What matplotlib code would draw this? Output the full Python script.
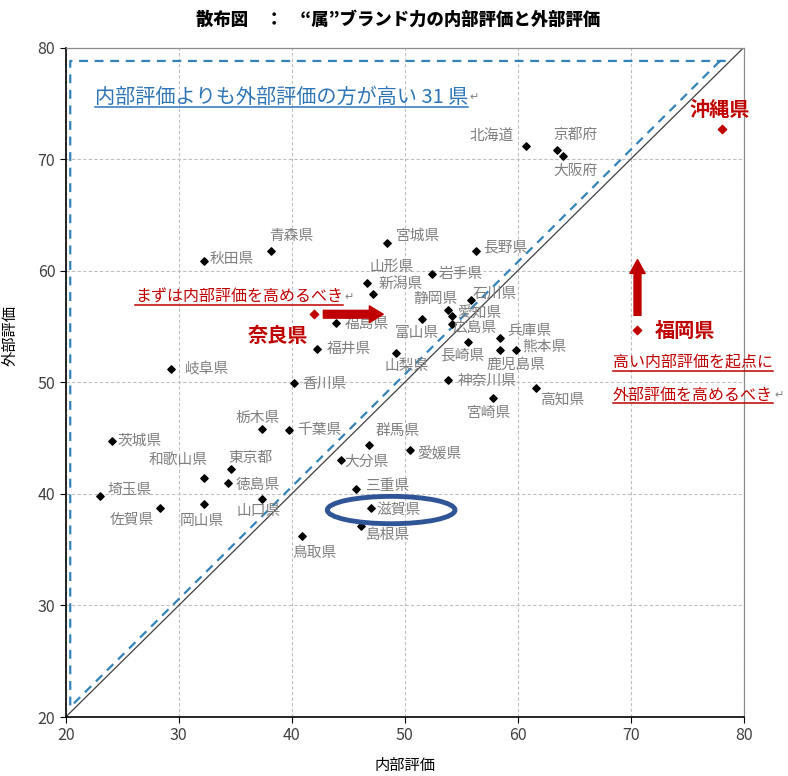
import matplotlib
matplotlib.use('Agg')
import matplotlib.pyplot as plt
from matplotlib.patches import Ellipse
from matplotlib.lines import Line2D

plt.rcParams['font.family'] = ['Noto Sans CJK JP', 'DejaVu Sans']

# 都道府県ごとの 内部評価 / 外部評価
names = ['北海道', '青森県', '岩手県', '宮城県', '秋田県', '山形県', '福島県',
         '茨城県', '栃木県', '群馬県', '埼玉県', '千葉県', '東京都', '神奈川県',
         '新潟県', '富山県', '石川県', '福井県', '山梨県', '長野県', '岐阜県',
         '静岡県', '愛知県', '三重県', '滋賀県', '京都府', '大阪府', '兵庫県',
         '和歌山県', '鳥取県', '島根県', '岡山県', '広島県', '山口県',
         '徳島県', '香川県', '愛媛県', '高知県', '佐賀県', '長崎県', '熊本県',
         '大分県', '宮崎県', '鹿児島県']
internal = [60.7, 38.2, 52.45, 48.46, 32.2, 46.7, 43.9,
            24.1, 37.4, 46.8, 23.0, 39.8, 34.6, 53.86,
            47.2, 51.5, 55.87, 42.2, 49.2, 56.3, 29.3,
            53.86, 54.2, 45.7, 47.0, 63.45, 64.0, 58.4,
            32.2, 40.9, 46.1, 32.2, 54.16, 37.4,
            34.4, 40.2, 50.5, 61.6, 28.3, 55.6, 59.85,
            44.4, 57.85, 58.4]
external = [71.2, 61.75, 59.75, 62.5, 60.9, 58.9, 55.3,
            44.7, 45.8, 44.4, 39.8, 45.7, 42.2, 50.2,
            57.9, 55.7, 57.37, 52.97, 52.6, 61.75, 51.15,
            56.5, 55.9, 40.45, 38.75, 70.8, 70.3, 54.0,
            41.4, 36.2, 37.15, 39.1, 55.2, 39.5,
            41.0, 49.9, 43.9, 49.5, 38.76, 53.6, 52.9,
            43.0, 48.55, 52.9]

# 強調する3県
hl_names = ['沖縄県', '奈良県', '福岡県']
hl_internal = [78.05, 41.97, 70.6]
hl_external = [72.66, 56.1, 54.67]

# ラベル位置 (pixel offset, ha)
offs = {
    '北海道': (-12, 9, 'right'), '京都府': (-3, 15, 'left'), '大阪府': (-10, -15, 'left'),
    '長野県': (7, 4, 'left'), '宮城県': (9, 7, 'left'), '青森県': (-2, 15, 'left'),
    '秋田県': (6, 2, 'left'), '岩手県': (6, 0, 'left'), '山形県': (2, 16, 'left'),
    '新潟県': (5, 9, 'left'), '静岡県': (-35, 11, 'left'), '石川県': (2, 6, 'left'),
    '愛知県': (5, 3, 'left'), '富山県': (-27, -14, 'left'), '広島県': (1, -4, 'left'),
    '福島県': (9, -1, 'left'), '兵庫県': (8, 7, 'left'), '熊本県': (6, 3, 'left'),
    '鹿児島県': (-13, -15, 'left'), '長崎県': (-28, -13, 'left'), '福井県': (10, 0, 'left'),
    '山梨県': (-11, -13, 'left'), '神奈川県': (9, -1, 'left'), '高知県': (4, -12, 'left'),
    '宮崎県': (-27, -15, 'left'), '香川県': (8, 0, 'left'), '岐阜県': (14, 0, 'left'),
    '栃木県': (-27, 11, 'left'), '千葉県': (8, 0, 'left'), '茨城県': (5, 1, 'left'),
    '群馬県': (7, 14, 'left'), '愛媛県': (7, -4, 'left'), '大分県': (3, -1, 'left'),
    '東京都': (-2, 11, 'left'), '和歌山県': (-55, 18, 'left'), '徳島県': (7, -2, 'left'),
    '三重県': (9, 3, 'left'), '埼玉県': (8, 6, 'left'), '山口県': (-26, -12, 'left'),
    '佐賀県': (-50, -12, 'left'), '岡山県': (-24, -17, 'left'), '滋賀県': (6, -2, 'left'),
    '島根県': (5, -9, 'left'), '鳥取県': (-10, -17, 'left'),
}
hl_offs = {'沖縄県': (-2, 20, 'center'), '奈良県': (-6, -21, 'right'), '福岡県': (17, 0, 'left')}

red = '#C00000'
blue = '#2E75B6'
gray = '#7F7F7F'

fig = plt.figure(figsize=(7.88, 7.76), dpi=100)
ax = fig.add_axes([0.0834, 0.076, 0.8604, 0.8627])
ax.set_xlim(20, 80)
ax.set_ylim(20, 80)
ax.set_xticks(range(20, 81, 10))
ax.set_yticks(range(20, 81, 10))
ax.grid(True, color='#BFBFBF', linestyle=(0, (3, 2)), linewidth=0.8)
ax.set_axisbelow(True)
for s in ['top', 'right']:
    ax.spines[s].set_color('#8C8C8C')
    ax.spines[s].set_linewidth(0.9)
for s in ['left', 'bottom']:
    ax.spines[s].set_color('black')
    ax.spines[s].set_linewidth(1.2)
ax.tick_params(direction='out', length=4, labelsize=11.5, labelcolor='#404040')

# 対角線と 31県 の領域
ax.plot([20, 80], [20, 80], color='#404040', lw=0.9)
ax.plot([77.9, 20.4, 20.4, 78.6, 77.9], [78.8, 20.9, 78.8, 78.8, 78.8],
        color='#3483B8', lw=1.6, linestyle=(0, (4, 3)))

ax.scatter(internal, external, marker='D', s=14, color='black', zorder=3)
ax.scatter(hl_internal, hl_external, marker='D', s=18, color=red, zorder=3)

for n, x, y in zip(names, internal, external):
    dx, dy, ha = offs[n]
    ax.annotate(n, (x, y), xytext=(dx, dy), textcoords='offset pixels',
                ha=ha, va='center', fontsize=10.6, color=gray)
for n, x, y in zip(hl_names, hl_internal, hl_external):
    dx, dy, ha = hl_offs[n]
    ax.annotate(n, (x, y), xytext=(dx, dy), textcoords='offset pixels',
                ha=ha, va='center', fontsize=14.5, color=red, fontweight='bold')

# 矢印
ax.annotate('', xy=(48.1, 56.1), xytext=(42.8, 56.1),
            arrowprops=dict(arrowstyle='simple,head_length=0.5,head_width=0.6,tail_width=0.28',
                            color=red, mutation_scale=20, shrinkA=0, shrinkB=0))
ax.annotate('', xy=(70.6, 61.0), xytext=(70.6, 56.0),
            arrowprops=dict(arrowstyle='simple,head_length=0.5,head_width=0.55,tail_width=0.25',
                            color=red, mutation_scale=20, shrinkA=0, shrinkB=0))

# 滋賀県 の楕円
ax.add_patch(Ellipse((48.8, 38.55), 11.3, 2.45, fill=False, ec='#2F5597', lw=3.5, zorder=4))

notes = [
    (95, 97, '内部評価よりも外部評価の方が高い 31 県', blue, 14.5),
    (135, 297, 'まずは内部評価を高めるべき', red, 11.5),
    (613, 363, '高い内部評価を起点に', red, 11.5),
    (613, 395, '外部評価を高めるべき', red, 11.5),
]
W, H = 788, 776
txts = []
for px, py, t, c, fs in notes:
    txts.append(fig.text(px / W, 1 - py / H, t, color=c, fontsize=fs, ha='left', va='center'))

ax.set_xlabel('内部評価', fontsize=11)
ax.set_ylabel('外部評価', fontsize=11)
ax.xaxis.set_label_coords(0.5, -0.06)
ax.yaxis.set_label_coords(-0.07, 0.57)
fig.text(0.505, 1 - 20 / H, '散布図　：　“属”ブランド力の内部評価と外部評価',
         ha='center', va='center', fontsize=12.5, fontweight='heavy')

fig.canvas.draw()
r = fig.canvas.get_renderer()
inv = fig.transFigure.inverted()
for i, t in enumerate(txts):
    bb = t.get_window_extent(r)
    (x0, y0), (x1, y1) = inv.transform([(bb.x0, bb.y0 + 1), (bb.x1, bb.y0 + 1)])
    fig.add_artist(Line2D([x0, x1], [y0, y1], color=t.get_color(), lw=1.1))
    if i != 2:
        fig.text(x1 + 0.002, (inv.transform([(0, bb.y0)])[0][1] + inv.transform([(0, bb.y1)])[0][1]) / 2,
                 '↵', fontsize=8, color='#808080', ha='left', va='center')

fig.savefig('out.png', dpi=100)
